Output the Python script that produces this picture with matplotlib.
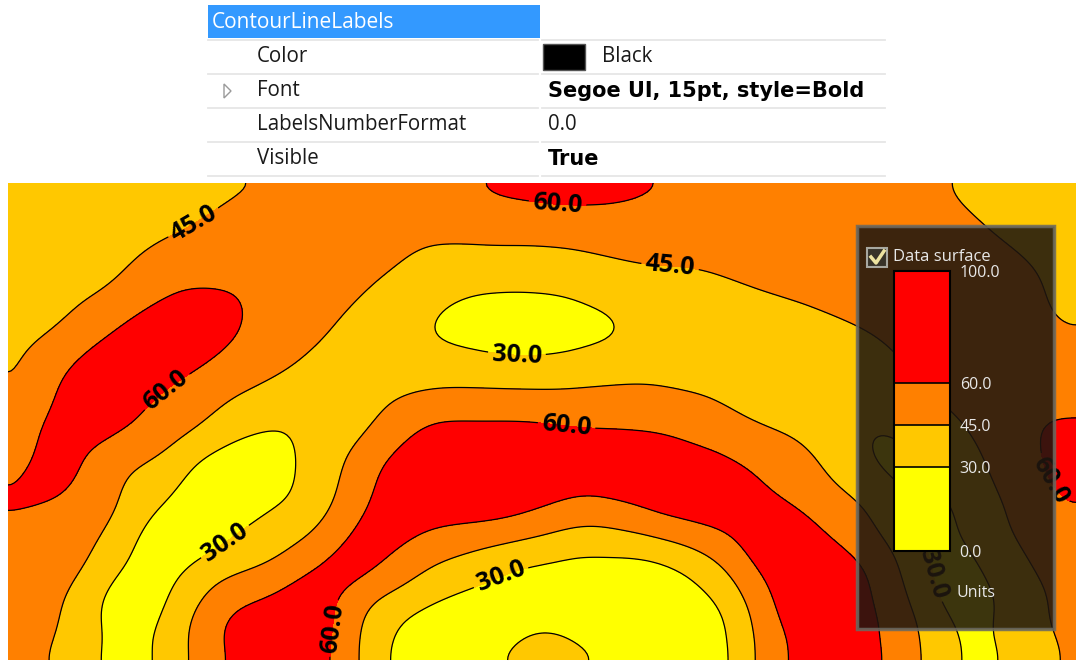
"""Contour surface with labelled iso-lines, under a property-grid strip."""

import matplotlib

matplotlib.use("Agg")  # no display in the sandbox

import matplotlib.pyplot as plt
import matplotlib.tri as mtri
import numpy as np
from matplotlib.lines import Line2D
from matplotlib.patches import Polygon, Rectangle

W, H = 1078, 661

plt.rcParams["font.family"] = ["Open Sans", "DejaVu Sans"]

# --- property grid text ---
prop_header = "ContourLineLabels"
prop_names = ["Color", "Font", "LabelsNumberFormat", "Visible"]
prop_values = ["Black", "Segoe UI, 15pt, style=Bold", "0.0", "True"]
prop_bold = [False, True, False, True]

# --- surface legend ---
levels = [0, 30, 45, 60, 100]
level_labels = ["0.0", "30.0", "45.0", "60.0", "100.0"]
band_colors = ["#FFFF00", "#FFC800", "#FF8000", "#FF0000"]
legend_title = "Data surface"
legend_units = "Units"

# --- surface values (grid nodes in screen pixels) ---
x_nodes = [8, 59, 110, 161, 212, 263, 314, 365, 416, 467, 518,
           569, 620, 671, 722, 773, 824, 875, 926, 977, 1028, 1079]
y_nodes = [183, 231, 279, 326, 374, 422, 470, 518, 565, 613, 661]

z_r00 = [49, 40, 37.5, 38, 41.5, 44.5, 47.5, 50, 53, 60, 66,
         68, 66, 60, 54, 51, 48.5, 47, 46.5, 42, 38, 35]
z_r01 = [40, 37.5, 38.5, 43, 47.5, 51, 53, 54, 49, 49.5, 50,
         51, 52, 51.5, 51, 52, 52, 51, 49, 46, 42.5, 39.5]
z_r02 = [37, 39.5, 43.5, 55, 58.5, 56.5, 51, 47, 39, 33.5, 33.5,
         35, 40, 42.5, 44.5, 47, 49, 52, 53, 50, 46, 42]
z_r03 = [39, 45, 58, 66, 64, 57, 48, 40.5, 31.5, 27, 24,
         25.5, 29.5, 37, 40, 41, 43, 46.5, 51, 53, 48, 44]
z_r04 = [41, 59, 67, 64, 57, 48, 40, 37, 38, 38, 37,
         38, 41, 41, 40, 39, 38, 40.7, 47, 52, 53, 50]
z_r05 = [48, 64, 64.5, 55, 43, 31.5, 33, 42, 57.5, 61, 61,
         59, 58, 55.8, 49, 43, 38.8, 31, 38.8, 48, 58, 61]
z_r06 = [53, 65, 50, 40, 23, 24, 34.5, 55, 68, 70, 70,
         67, 68, 68, 65, 56, 45, 30.5, 30, 42, 55, 72]
z_r07 = [60, 55, 46, 26, 22, 30.5, 40.5, 62, 65, 63, 59.5,
         51, 52, 60.5, 64, 65, 58, 43, 26, 36.8, 48.6, 59]
z_r08 = [54, 52, 35.5, 24, 35.8, 45, 59.5, 64, 50, 39, 30.5,
         27, 26, 29.5, 45.5, 66, 64, 57, 30.5, 29, 44.5, 51.5]
z_r09 = [50, 46, 26, 29, 54, 66, 68, 44.5, 29, 24, 26,
         26, 23, 24, 29, 59, 68, 61, 38.8, 26, 40, 50]
z_r10 = [50, 43, 26, 31, 55, 66, 67, 42, 22, 26, 33,
         34, 27, 23, 25, 56, 67, 64, 44, 27, 37.5, 50]
surface = [z_r00, z_r01, z_r02, z_r03, z_r04, z_r05,
           z_r06, z_r07, z_r08, z_r09, z_r10]

# where the iso-line labels sit (screen pixels)
label_spots = [(197, 229), (558, 198), (670, 268), (517, 352), (168, 393),
               (567, 422), (226, 543), (500, 575), (332, 628), (1058, 476),
               (930, 575)]


def fx(px):
    return px / W


def fy(py):
    return 1 - py / H


def soften(a, sigma):
    """Separable gaussian pass (sigma in grid steps) to iron out node-to-node wobble."""
    r = int(3 * sigma)
    k = np.exp(-0.5 * (np.arange(-r, r + 1) / sigma) ** 2)
    k /= k.sum()
    p = np.pad(a, r, mode="reflect")
    rows = sum(k[i] * p[:, i:i + a.shape[1]] for i in range(2 * r + 1))
    return sum(k[i] * rows[i:i + a.shape[0], :] for i in range(2 * r + 1))


fig = plt.figure(figsize=(W / 100, H / 100), dpi=100)
fig.patch.set_facecolor("white")

# ---------------- property grid ----------------
fig.add_artist(Rectangle((fx(208), fy(38)), (540 - 208) / W, 33 / H,
                         transform=fig.transFigure, color="#3399FF", lw=0))
fig.text(fx(212), fy(22), prop_header, color="white", fontsize=15, va="center")

for sep in [39.5, 74, 108, 142, 176]:
    for x0, x1 in [(208, 538), (542, 885)]:
        fig.add_artist(Line2D([fx(x0), fx(x1)], [fy(sep), fy(sep)],
                              transform=fig.transFigure, color="#E6E6E6", lw=1.3))

row_y = [57, 91, 125, 159]
for yc, name, value, bold in zip(row_y, prop_names, prop_values, prop_bold):
    fig.text(fx(257), fy(yc), name, fontsize=14.8, va="center", color="#1A1A1A")
    vx = 602 if name == "Color" else 548
    if bold:
        fig.text(fx(vx), fy(yc), value, fontsize=15, va="center", color="black",
                 fontweight="bold", family="DejaVu Sans")
    else:
        fig.text(fx(vx), fy(yc), value, fontsize=14.8, va="center", color="#1A1A1A")

# colour swatch and expander arrow
fig.add_artist(Rectangle((fx(543), fy(70)), 42 / W, 26 / H,
                         transform=fig.transFigure, facecolor="black",
                         edgecolor="#555555", lw=1))
tri_pts = [(fx(224), fy(84)), (fx(224), fy(98)), (fx(231), fy(91))]
fig.add_artist(Polygon(tri_pts, closed=True, transform=fig.transFigure,
                       facecolor="white", edgecolor="#9A9A9A", lw=1))

# ---------------- contour surface ----------------
ax = fig.add_axes([fx(8), 0, (W - 8) / W, fy(183)])
ax.set_xlim(8, 1078)
ax.set_ylim(661, 183)
ax.axis("off")

gx, gy = np.meshgrid(np.array(x_nodes, float), np.array(y_nodes, float))
zz = np.array(surface, float)
triang = mtri.Triangulation(gx.ravel(), gy.ravel())
interp = mtri.CubicTriInterpolator(triang, zz.ravel(), kind="min_E")

step = 3.0
fxs = np.arange(8, 1079, step)
fys = np.arange(183, 661.1, step)
FX, FY = np.meshgrid(fxs, fys)
FZ = soften(np.asarray(interp(FX, FY).filled(np.nan)), 13.0 / step)

cf = ax.contourf(FX, FY, FZ, levels=levels, colors=band_colors)
cs = ax.contour(FX, FY, FZ, levels=levels[1:-1], colors="black", linewidths=0.9)

plt.rcParams["font.weight"] = "bold"
ax.clabel(cs, levels=levels[1:-1], fmt="%.1f", fontsize=18, colors="black",
          inline=True, inline_spacing=4, manual=label_spots)
plt.rcParams["font.weight"] = "normal"

# ---------------- legend box ----------------
fig.add_artist(Rectangle((fx(857), fy(629)), (1054 - 857) / W, (629 - 226) / H,
                         transform=fig.transFigure, facecolor=(0.12, 0.09, 0.06),
                         edgecolor=(0.42, 0.41, 0.38), lw=2.5, alpha=0.87, zorder=3))
fig.add_artist(Rectangle((fx(867), fy(267)), 20 / W, 19 / H,
                         transform=fig.transFigure, facecolor=(0.22, 0.2, 0.16),
                         edgecolor="#A8A8A0", lw=1.5, zorder=4))
fig.add_artist(Line2D([fx(871), fx(876), fx(884)], [fy(257), fy(263), fy(251)],
                      transform=fig.transFigure, color="#EDE3A0", lw=2.5, zorder=5))
fig.text(fx(893), fy(257), legend_title, color="#E8E8E8", fontsize=12,
         va="center", zorder=5)
fig.text(fx(957), fy(593), legend_units, color="#E8E8E8", fontsize=11.5,
         va="center", zorder=5)

cax = fig.add_axes([fx(894), fy(551), 56 / W, 280 / H])
cax.set_zorder(6)
cb = fig.colorbar(cf, cax=cax, drawedges=True, spacing="proportional")
cb.outline.set_edgecolor("black")
cb.outline.set_linewidth(1.5)
cb.dividers.set_color("black")
cb.dividers.set_linewidth(1.2)
cb.set_ticks(levels)
cb.set_ticklabels(level_labels)
cax.tick_params(length=0, pad=7, labelsize=11.5, labelcolor="#E8E8E8")

fig.savefig("out.png", dpi=100)
plt.close(fig)
